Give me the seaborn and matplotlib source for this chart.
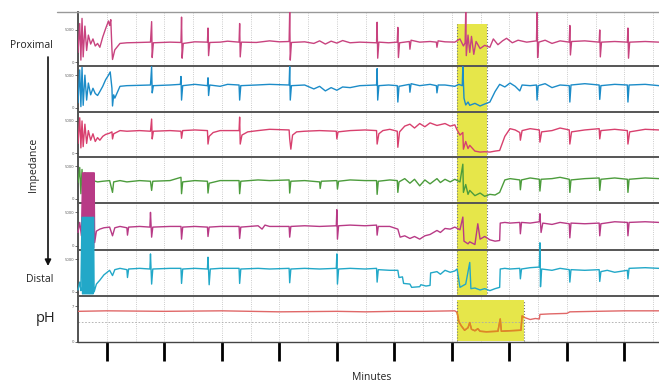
import numpy as np
import pandas as pd
import matplotlib.pyplot as plt
import seaborn as sns
from matplotlib.lines import Line2D

sns.set_theme(style='white')
plt.rcParams['font.family'] = ['Open Sans', 'DejaVu Sans']

# impedance channels: (minutes, ohm), proximal -> distal
z1 = [(-0.50, 1500), (-0.47, 6000), (-0.45, 300), (-0.43, 6800), (-0.41, 800), (-0.38, 5600),
      (-0.35, 1800), (-0.32, 4200), (-0.28, 2800), (-0.24, 3600), (-0.20, 2500), (-0.16, 2900),
      (-0.12, 2300), (-0.07, 3900), (-0.02, 5200), (0.03, 6400), (0.05, 5700), (0.07, 6600),
      (0.09, 2000), (0.10, 400), (0.14, 1900), (0.23, 2900), (0.35, 3000), (0.57, 3050),
      (0.76, 3100), (0.78, 6300), (0.79, 700), (0.81, 3000), (1.10, 3100), (1.29, 3050),
      (1.30, 7000), (1.31, 600), (1.33, 2900), (1.53, 3150), (1.75, 3100), (1.76, 5300),
      (1.77, 1000), (1.79, 3050), (1.97, 3100), (2.10, 3250), (2.30, 3100), (2.31, 6000),
      (2.32, 800), (2.34, 3100), (2.60, 3050), (2.83, 3300), (3.00, 3150), (3.17, 3200),
      (3.18, 7800), (3.19, 300), (3.21, 3050), (3.44, 3150), (3.60, 2900), (3.70, 3300),
      (3.80, 2800), (3.90, 3250), (4.00, 2950), (4.10, 3350), (4.23, 3000), (4.40, 3100),
      (4.69, 3000), (4.70, 6200), (4.71, 600), (4.73, 3100), (4.90, 3000), (5.05, 3100),
      (5.06, 5400), (5.07, 700), (5.09, 3000), (5.26, 3200), (5.27, 2000), (5.29, 3400),
      (5.44, 3100), (5.62, 3200), (5.73, 3100), (5.74, 2300), (5.76, 3300), (5.88, 3150),
      (6.05, 3100), (6.14, 3600), (6.20, 2500), (6.23, 3000), (6.24, 7800), (6.25, 1000),
      (6.28, 4200), (6.31, 1500), (6.34, 4000), (6.38, 1200), (6.42, 3200), (6.49, 2100),
      (6.57, 2600), (6.66, 2300), (6.72, 3600), (6.80, 2700), (6.88, 3300), (6.95, 3700),
      (7.05, 3000), (7.15, 3400), (7.30, 3100), (7.47, 3300), (7.48, 7800), (7.49, 700),
      (7.51, 3100), (7.62, 3400), (7.74, 2900), (7.88, 3300), (8.04, 3100), (8.05, 5700),
      (8.06, 1100), (8.08, 3200), (8.31, 3300), (8.56, 3100), (8.57, 5000), (8.58, 800),
      (8.60, 3100), (8.83, 3200), (9.05, 3100), (9.06, 5300), (9.07, 600), (9.09, 3100),
      (9.36, 3200), (9.60, 3100)]

z2 = [(-0.50, 800), (-0.47, 5800), (-0.45, 200), (-0.43, 6200), (-0.41, 400), (-0.38, 5000),
      (-0.35, 1200), (-0.32, 3800), (-0.28, 2000), (-0.24, 3000), (-0.20, 2200), (-0.16, 1900),
      (-0.12, 2500), (-0.07, 3300), (-0.02, 4300), (0.03, 5000), (0.06, 5500), (0.09, 3000),
      (0.10, 300), (0.12, 2000), (0.14, 1500), (0.23, 3300), (0.35, 3400), (0.57, 3450),
      (0.76, 3500), (0.78, 6300), (0.79, 2300), (0.81, 3400), (1.10, 3500), (1.28, 3600),
      (1.29, 4800), (1.30, 1200), (1.32, 3400), (1.53, 3600), (1.75, 3400), (1.76, 4600),
      (1.77, 1900), (1.79, 3500), (1.97, 3300), (2.10, 3600), (2.30, 3500), (2.31, 1200),
      (2.33, 3400), (2.60, 3500), (2.83, 3600), (3.17, 3500), (3.18, 6300), (3.19, 1200),
      (3.21, 3400), (3.44, 3500), (3.60, 2900), (3.70, 3300), (3.80, 2600), (3.90, 3100),
      (4.00, 2700), (4.10, 3200), (4.23, 3100), (4.40, 3400), (4.69, 3500), (4.70, 6000),
      (4.71, 1200), (4.73, 3400), (4.90, 3500), (5.05, 3400), (5.06, 900), (5.08, 3300),
      (5.26, 3600), (5.27, 2400), (5.29, 3700), (5.44, 3400), (5.62, 3600), (5.73, 3400),
      (5.74, 2300), (5.76, 3500), (5.88, 3500), (6.05, 3300), (6.12, 3600), (6.18, 3400),
      (6.19, 6300), (6.21, 1500), (6.24, 450), (6.28, 900), (6.31, 400), (6.40, 700),
      (6.49, 300), (6.57, 600), (6.66, 900), (6.75, 2500), (6.83, 3600), (6.92, 3200),
      (7.01, 3800), (7.10, 3300), (7.18, 2600), (7.22, 3500), (7.36, 3400), (7.47, 3500),
      (7.48, 1200), (7.50, 3400), (7.62, 3700), (7.74, 3100), (7.88, 3500), (8.04, 3400),
      (8.05, 900), (8.07, 3500), (8.31, 3700), (8.56, 3500), (8.57, 1300), (8.59, 3400),
      (8.83, 3600), (9.05, 3500), (9.06, 900), (9.08, 3500), (9.36, 3600), (9.60, 3400)]

z3 = [(-0.50, 1500), (-0.47, 5500), (-0.45, 800), (-0.43, 5000), (-0.41, 1000), (-0.38, 4500),
      (-0.35, 1500), (-0.32, 3500), (-0.28, 2000), (-0.24, 3000), (-0.20, 1800), (-0.16, 2400),
      (-0.12, 2000), (-0.07, 2600), (-0.02, 2900), (0.05, 3100), (0.09, 3300), (0.10, 2200),
      (0.12, 3000), (0.23, 3500), (0.35, 3400), (0.57, 3500), (0.76, 3400), (0.78, 5300),
      (0.79, 2200), (0.81, 3400), (1.10, 3500), (1.29, 3400), (1.30, 2300), (1.32, 3500),
      (1.53, 3600), (1.75, 3500), (1.76, 1400), (1.78, 2600), (1.85, 3200), (1.97, 3500),
      (2.30, 3500), (2.31, 5600), (2.32, 1400), (2.35, 2800), (2.45, 3300), (2.63, 3500),
      (2.83, 3700), (3.17, 3600), (3.18, 2200), (3.20, 600), (3.23, 2800), (3.30, 3300),
      (3.44, 3400), (3.70, 3500), (3.99, 3400), (4.00, 2200), (4.02, 3300), (4.23, 3500),
      (4.49, 3600), (4.69, 3500), (4.70, 1400), (4.73, 3000), (4.80, 3500), (4.92, 3700),
      (5.05, 3400), (5.06, 900), (5.09, 3300), (5.18, 4200), (5.27, 4500), (5.35, 3900),
      (5.44, 4600), (5.53, 4100), (5.62, 4700), (5.74, 4300), (5.88, 4600), (5.97, 4200),
      (6.05, 4400), (6.09, 3600), (6.14, 2800), (6.19, 3200), (6.20, 600), (6.24, 1800),
      (6.28, 700), (6.31, 1200), (6.40, 300), (6.49, 150), (6.57, 200), (6.66, 150),
      (6.75, 300), (6.83, 400), (6.92, 2600), (7.01, 3800), (7.10, 3600), (7.18, 3200),
      (7.19, 2000), (7.22, 3500), (7.36, 3800), (7.52, 3600), (7.53, 1700), (7.56, 3300),
      (7.74, 3500), (7.88, 3900), (8.04, 3600), (8.05, 1400), (8.08, 3300), (8.31, 3600),
      (8.56, 3800), (8.57, 2200), (8.59, 3500), (8.83, 3700), (9.05, 3500), (9.06, 1400),
      (9.09, 3300), (9.36, 3700), (9.60, 3600)]

z4 = [(-0.50, 2500), (-0.47, 4800), (-0.45, 800), (-0.43, 4500), (-0.41, 1000), (-0.38, 4000),
      (-0.35, 1600), (-0.32, 3200), (-0.28, 2500), (-0.24, 2800), (-0.16, 2600), (-0.07, 2700),
      (0.05, 2800), (0.10, 1000), (0.12, 2600), (0.23, 2800), (0.35, 2600), (0.57, 2800),
      (0.76, 2700), (0.78, 1300), (0.80, 2700), (1.10, 2800), (1.29, 3300), (1.30, 800),
      (1.32, 2600), (1.53, 2800), (1.75, 2700), (1.76, 900), (1.78, 2400), (1.97, 2800),
      (2.30, 2800), (2.31, 800), (2.33, 2700), (2.63, 2900), (2.83, 2800), (3.17, 2900),
      (3.18, 900), (3.20, 2700), (3.44, 2800), (3.70, 2600), (3.71, 1600), (3.73, 2700),
      (4.00, 2800), (4.01, 1500), (4.03, 2700), (4.23, 2900), (4.49, 2800), (4.69, 2800),
      (4.70, 700), (4.72, 2700), (4.92, 2900), (5.05, 2800), (5.06, 1000), (5.08, 2600),
      (5.18, 3100), (5.27, 2400), (5.35, 3000), (5.44, 2000), (5.53, 2900), (5.62, 2300),
      (5.74, 3100), (5.80, 2500), (5.88, 3000), (5.97, 2600), (6.05, 3000), (6.14, 2600),
      (6.19, 5300), (6.20, 1000), (6.24, 2200), (6.28, 700), (6.31, 1300), (6.40, 500),
      (6.49, 900), (6.57, 400), (6.66, 700), (6.75, 600), (6.83, 1000), (6.92, 2900),
      (7.01, 3100), (7.18, 2900), (7.19, 1400), (7.21, 2900), (7.36, 3200), (7.52, 3000),
      (7.53, 1200), (7.55, 3000), (7.74, 3100), (7.88, 3300), (8.04, 3000), (8.05, 1000),
      (8.07, 2900), (8.31, 3100), (8.56, 3200), (8.57, 1300), (8.59, 3000), (8.83, 3200),
      (9.05, 3000), (9.06, 1000), (9.08, 3000), (9.36, 3200), (9.60, 3100)]

z5 = [(-0.50, 2000), (-0.47, 3500), (-0.44, 1500), (-0.42, 10900), (-0.41, -300), (-0.40, 10900),
      (-0.39, -300), (-0.38, 10900), (-0.37, -300), (-0.36, 10900), (-0.35, -300), (-0.34, 10900),
      (-0.33, -300), (-0.32, 10900), (-0.31, -300), (-0.30, 10900), (-0.29, -300), (-0.28, 10900),
      (-0.27, -300), (-0.26, 10900), (-0.25, -300), (-0.24, 10900), (-0.23, -300), (-0.22, 10900),
      (-0.21, 500), (-0.18, 2200), (-0.12, 2500), (-0.05, 2700), (0.05, 2800), (0.10, 1500),
      (0.14, 2700), (0.23, 2900), (0.35, 2700), (0.36, 1600), (0.38, 2800), (0.57, 2900),
      (0.75, 2800), (0.76, 5000), (0.78, 1300), (0.80, 2800), (1.10, 2900), (1.29, 2900),
      (1.30, 1000), (1.32, 2800), (1.53, 2900), (1.75, 2800), (1.76, 1400), (1.78, 2800),
      (1.97, 2900), (2.30, 2900), (2.31, 1100), (2.33, 2800), (2.63, 3000), (2.70, 2500),
      (2.75, 3100), (2.83, 2900), (3.17, 2900), (3.18, 1300), (3.20, 2900), (3.44, 3000),
      (3.70, 2900), (3.99, 3000), (4.00, 5400), (4.01, 1000), (4.03, 3000), (4.23, 3100),
      (4.49, 3000), (4.69, 3100), (4.70, 1600), (4.72, 2900), (4.92, 2900), (5.06, 2500),
      (5.10, 1300), (5.18, 1500), (5.27, 1100), (5.35, 1400), (5.44, 1000), (5.53, 1500),
      (5.62, 1700), (5.74, 2300), (5.80, 2000), (5.88, 2600), (5.97, 2500), (6.05, 2800),
      (6.14, 2400), (6.19, 4300),
      (6.21, 700), (6.28, 300), (6.31, 600), (6.40, 200), (6.45, 3300), (6.49, 1000),
      (6.57, 1400), (6.66, 900), (6.75, 700), (6.83, 800), (6.84, 3400), (6.92, 3500),
      (7.01, 3400), (7.18, 3500), (7.19, 1800), (7.21, 3500), (7.36, 3400), (7.52, 3600),
      (7.53, 4800), (7.55, 2000), (7.58, 3400), (7.74, 3200), (7.88, 3500), (8.04, 3300),
      (8.05, 1200), (8.07, 3400), (8.31, 3300), (8.56, 3400), (8.57, 1500), (8.59, 3300),
      (8.83, 3600), (9.05, 3500), (9.06, 1500), (9.08, 3500), (9.36, 3600), (9.60, 3500)]

z6 = [(-0.50, 300), (-0.47, 1500), (-0.45, 200), (-0.43, 11400), (-0.42, -300), (-0.41, 11400),
      (-0.40, -300), (-0.39, 11400), (-0.38, -300), (-0.37, 11400), (-0.36, -300), (-0.35, 11400),
      (-0.34, -300), (-0.33, 11400), (-0.32, -300), (-0.31, 11400), (-0.30, -300), (-0.29, 11400),
      (-0.28, -300), (-0.27, 11400), (-0.26, -300), (-0.25, 11400), (-0.24, -300), (-0.23, 11400),
      (-0.22, 0), (-0.18, 1200), (-0.12, 1800), (-0.05, 2600), (0.05, 3300), (0.10, 2500),
      (0.14, 3400), (0.23, 3600), (0.35, 3400), (0.36, 2200), (0.38, 3500), (0.57, 3600),
      (0.75, 3500), (0.76, 5800), (0.78, 1200), (0.80, 3500), (1.10, 3600), (1.29, 3600),
      (1.30, 1300), (1.32, 3500), (1.53, 3600), (1.75, 3500), (1.76, 5300), (1.78, 1100),
      (1.80, 3500), (1.97, 3600), (2.30, 3600), (2.31, 1300), (2.33, 3500), (2.63, 3600),
      (2.83, 3500), (3.17, 3600), (3.18, 1400), (3.20, 3500), (3.44, 3600), (3.70, 3500),
      (3.99, 3600), (4.00, 5800), (4.01, 1200), (4.03, 3500), (4.23, 3600), (4.49, 3500),
      (4.69, 3600), (4.70, 1500), (4.72, 3400), (4.92, 3300), (5.06, 3300), (5.08, 2200),
      (5.14, 2300), (5.16, 1300), (5.27, 1200), (5.30, 700), (5.44, 800), (5.46, 1100),
      (5.55, 900), (5.62, 1000), (5.63, 2900), (5.74, 3100), (5.80, 2700), (5.88, 3300),
      (5.97, 3000), (6.05, 3200), (6.09, 3500), (6.14, 700),
      (6.24, 1200), (6.31, 4500), (6.33, 500), (6.40, 600), (6.49, 300), (6.57, 500),
      (6.66, 200), (6.75, 500), (6.83, 700), (6.84, 3500), (6.92, 3600), (7.01, 3500),
      (7.18, 3600), (7.19, 2000), (7.21, 3500), (7.36, 3700), (7.52, 3800), (7.53, 7500),
      (7.54, 800), (7.56, 3500), (7.74, 3300), (7.88, 3600), (8.04, 3400), (8.05, 1500),
      (8.07, 3400), (8.31, 3300), (8.56, 3400), (8.57, 1600), (8.59, 3100), (8.70, 3300),
      (8.83, 3000), (9.05, 3300), (9.06, 2000), (9.08, 3600), (9.36, 3700), (9.60, 3600)]

# pH channel
ph = [(-0.50, 6.0), (0.00, 6.1), (1.00, 6.0), (2.00, 6.1), (3.00, 5.9), (4.00, 6.0),
      (4.50, 5.9), (5.00, 6.0), (5.50, 6.0), (6.05, 6.1), (6.09, 5.8), (6.12, 4.0),
      (6.16, 3.2), (6.22, 2.3), (6.28, 2.8), (6.31, 3.8), (6.34, 2.5), (6.40, 2.2),
      (6.45, 2.6), (6.49, 2.1), (6.60, 2.0), (6.80, 2.1), (6.84, 4.5), (6.86, 2.1),
      (7.00, 2.2), (7.20, 2.3), (7.22, 5.1), (7.26, 4.8), (7.36, 4.4), (7.45, 4.6),
      (7.52, 4.5), (7.53, 5.4), (7.70, 5.5), (8.00, 5.6), (8.05, 5.9), (8.50, 6.0),
      (9.00, 6.1), (9.60, 6.1)]

z_colors = ['#c8437f', '#1c8cc8', '#d8406e', '#4c9c3c', '#b83a86', '#22a8c8']
ph_color = '#e06868'
acid_color = '#dd8a20'
reflux_z = (6.09, 6.61)     # reflux episode in impedance channels (min)
reflux_ph = (6.09, 7.25)    # acid exposure in pH channel (min)

W, H = 659, 384
fig = plt.figure(figsize=(W / 100, H / 100), dpi=100)
gs = fig.add_gridspec(7, 1, height_ratios=[54, 46, 45, 46, 47, 46, 46], hspace=0,
                      left=78 / W, right=1.0, top=1 - 12 / H, bottom=1 - 342 / H)
axes = [fig.add_subplot(gs[i]) for i in range(7)]

grid_t = np.arange(0, 10, 0.5)
yellow = '#e6e64a'

for i, ax in enumerate(axes):
    ax.set_xlim(-0.5, 9.6)
    for t in grid_t:
        ax.axvline(t, ls=':', color='#bbbbbb', lw=0.6, zorder=0)
    for s in ['right', 'bottom']:
        ax.spines[s].set_visible(False)
    ax.spines['left'].set_color('#444444')
    ax.spines['left'].set_linewidth(1.3)
    ax.spines['top'].set_color('#555555' if i else '#999999')
    ax.spines['top'].set_linewidth(1.4 if i else 1.0)
    ax.tick_params(axis='y', which='both', left=True, length=2, width=0.6,
                   labelsize=3, colors='#555555', pad=1)
    ax.tick_params(axis='x', bottom=False, labelbottom=False)

for i, (data, c) in enumerate(zip([z1, z2, z3, z4, z5, z6], z_colors)):
    ax = axes[i]
    df = pd.DataFrame(data, columns=['t', 'v'])
    ymax = 7800 if i == 0 else 6400
    ax.set_ylim(-620, ymax)
    ax.set_yticks([0, 5000])
    ax.set_yticklabels(['0', '5000'])
    ytop = 0.78 if i == 0 else 1.0
    ax.axvspan(*reflux_z, ymin=0, ymax=ytop, color=yellow, lw=0, zorder=0.5)
    for t in reflux_z:
        ax.axvline(t, ymax=ytop, ls=':', color='#777777', lw=0.8, zorder=0.6)
    sns.lineplot(data=df, x='t', y='v', ax=ax, color=c, lw=1.0, sort=False,
                 estimator=None, clip_on=(i < 4), zorder=3)
    ax.set_xlabel('')
    ax.set_ylabel('')

axp = axes[6]
dph = pd.DataFrame(ph, columns=['t', 'v'])
axp.set_ylim(0, 9)
axp.set_yticks([0, 7])
axp.set_yticklabels(['0', '7'])
axp.axvspan(*reflux_ph, ymin=0.02, ymax=0.91, color=yellow, lw=0, zorder=0.5)
for t in reflux_ph:
    axp.axvline(t, ymin=0.02, ymax=0.91, ls=':', color='#777777', lw=0.8, zorder=0.6)
axp.axhline(4, ls=(0, (2, 2)), color='#aaaaaa', lw=0.6, zorder=1)
inside = (dph['t'] >= reflux_ph[0] - 0.01) & (dph['t'] <= reflux_ph[1] + 0.01)
sns.lineplot(data=dph, x='t', y='v', ax=axp, color=ph_color, lw=1.0, sort=False,
             estimator=None, zorder=3)
sns.lineplot(data=dph[inside], x='t', y='v', ax=axp, color=acid_color, lw=1.1,
             sort=False, estimator=None, zorder=4)
axp.set_xlabel('')
axp.set_ylabel('')
axp.spines['bottom'].set_visible(True)
axp.spines['bottom'].set_color('#444444')
axp.spines['bottom'].set_linewidth(1.0)
axp.set_xticks(np.arange(0, 10, 1))
axp.tick_params(axis='x', bottom=True, direction='out', length=14, width=2,
                color='black', labelbottom=False)

# left annotation column
def fx(px):
    return px / W

def fy(py):
    return 1 - py / H

fig.add_artist(Line2D([fx(57), fx(78)], [fy(12), fy(12)], color='#999999', lw=1.0))
fig.text(fx(31), fy(45), 'Proximal', ha='center', va='center', fontsize=7.5, color='#222222')
fig.text(fx(33), fy(165), 'Impedance', ha='center', va='center', rotation=90,
         fontsize=7.5, color='#222222')
fig.text(fx(40), fy(280), 'Distal', ha='center', va='center', fontsize=7.5, color='#222222')
fig.text(fx(46), fy(318), 'pH', ha='center', va='center', fontsize=10.5, color='#222222')
fig.text(fx(372), fy(378), 'Minutes', ha='center', va='center', fontsize=7.5, color='#222222')
axp.annotate('', xy=(fx(48), fy(266)), xytext=(fx(48), fy(57)),
             xycoords='figure fraction', textcoords='figure fraction',
             arrowprops=dict(arrowstyle='-|>', color='#111111', lw=1.2,
                             mutation_scale=9, shrinkA=0, shrinkB=0))

fig.savefig('out.png', dpi=100)
